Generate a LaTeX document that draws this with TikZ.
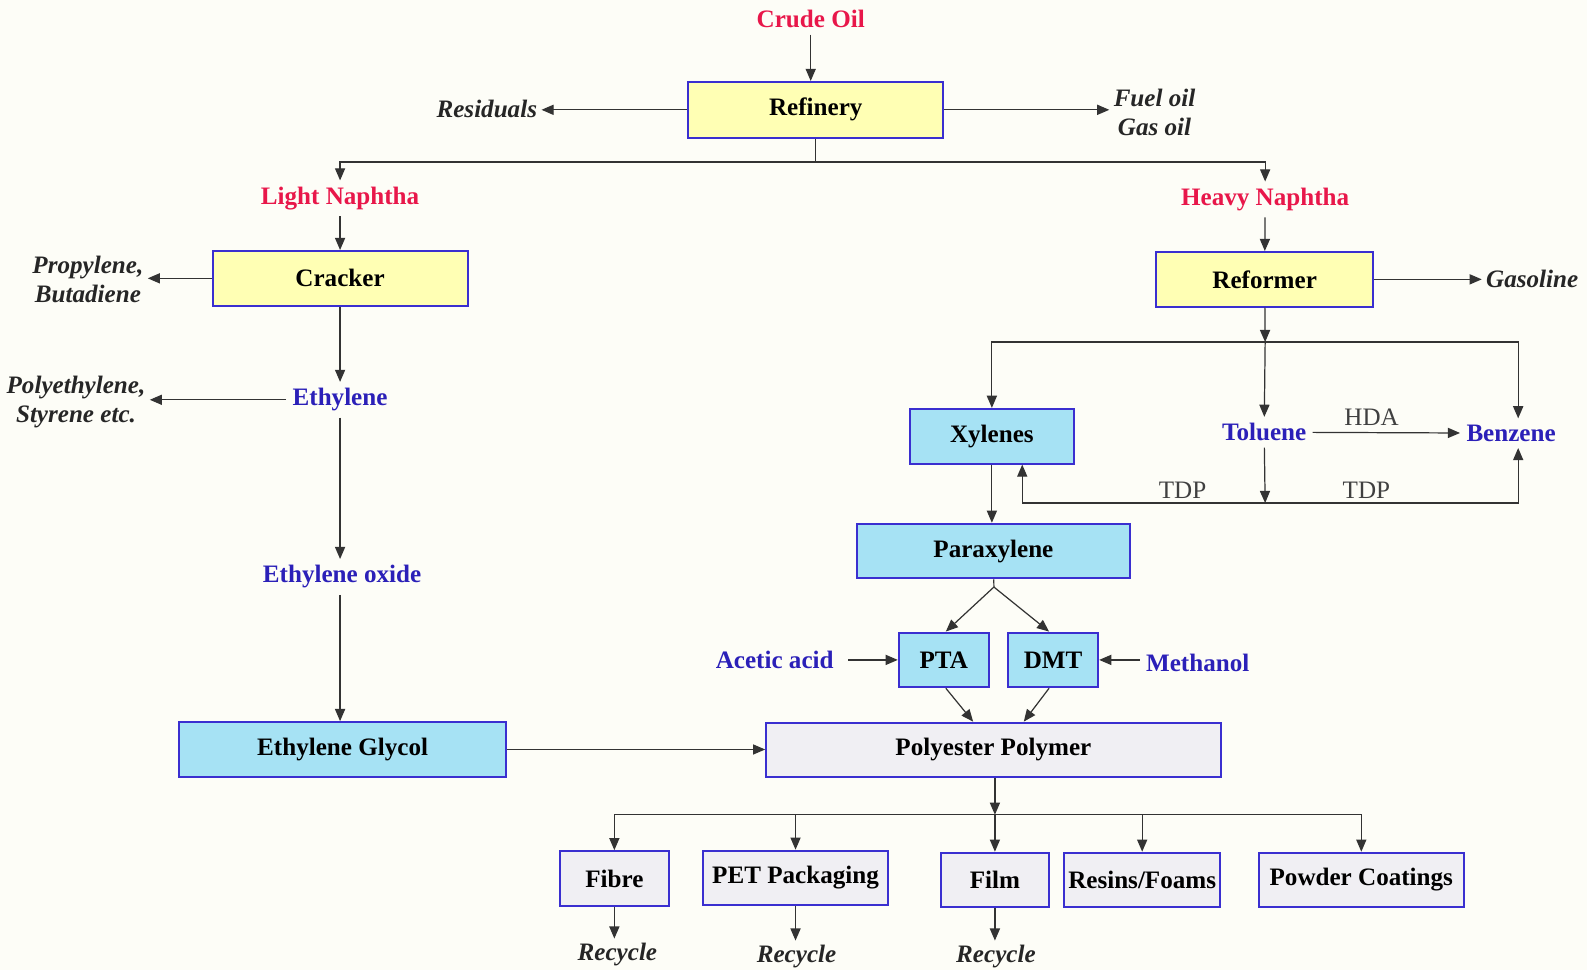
\documentclass[tikz,border=0pt]{standalone}
\usepackage{fontspec}
\setmainfont{Liberation Serif}
\usetikzlibrary{arrows.meta, positioning}
\definecolor{crudered}{HTML}{E8174A}
\definecolor{chemblue}{HTML}{2B20B8}
\definecolor{boxline}{HTML}{3A2FD0}
\definecolor{yfill}{HTML}{FFFFB4}
\definecolor{cfill}{HTML}{A6E2F4}
\definecolor{gfill}{HTML}{F0EFF3}
\definecolor{linegray}{HTML}{333333}
\definecolor{paper}{HTML}{FDFDF7}

\begin{document}
\begin{tikzpicture}[x=0.5pt, y=-0.5pt,
  font=\fontsize{12.4}{14.5}\selectfont\bfseries,
  box/.style={draw=boxline, line width=1pt, minimum height=27pt, inner sep=2pt},
  ybox/.style={box, fill=yfill},
  cbox/.style={box, fill=cfill},
  gbox/.style={box, fill=gfill},
  feed/.style={text=crudered, inner sep=3pt},
  chem/.style={text=chemblue, inner sep=3pt},
  prod/.style={font=\fontsize{12.4}{14.5}\selectfont\bfseries\itshape, text=black!85, align=center, inner sep=2pt},
  proc/.style={font=\fontsize{12.4}{14.5}\selectfont, text=black!75, inner sep=2pt},
  flow/.style={draw=linegray, line width=0.6pt, -{Triangle[length=6pt,width=5pt]}},
  link/.style={draw=linegray, line width=0.6pt}
]
\useasboundingbox[fill=paper] (0,0) rectangle (1568,958);

% refinery
\node[feed] (crude) at (801,19) {Crude Oil};
\node[ybox, minimum width=126pt, minimum height=27.5pt] (refinery) at (806,108.5) {Refinery};
\node[prod, anchor=east] (resid) at (535,108) {Residuals};
\node[prod, anchor=west] (fuel) at (1096,111) {Fuel oil\\Gas oil};
\coordinate (split) at (806,160);
\node[feed] (light) at (336,196) {Light Naphtha};
\node[feed] (heavy) at (1250,197) {Heavy Naphtha};

% light naphtha side
\node[ybox, minimum width=126pt] (cracker) at (336,275) {Cracker};
\node[prod, anchor=east] (propyl) at (146,276) {Propylene,\\Butadiene};
\node[chem] (ethylene) at (336,395) {Ethylene};
\node[prod, anchor=east] (polyeth) at (148,397) {Polyethylene,\\Styrene etc.};
\node[chem] (eo) at (338,570) {Ethylene oxide};
\node[cbox, minimum width=161.5pt] (eg) at (338.5,740.5) {Ethylene Glycol};

% heavy naphtha side
\node[ybox, minimum width=107.5pt] (reformer) at (1249.5,276) {Reformer};
\node[prod, anchor=west] (gasoline) at (1464,276) {Gasoline};
\coordinate (aroma) at (1250,338);
\node[cbox, minimum width=81pt] (xylenes) at (980,431) {Xylenes};
\node[chem] (toluene) at (1249,427) {Toluene};
\node[chem] (benzene) at (1493,428) {Benzene};
\coordinate (tdp) at (1250,497);
\node[cbox, minimum width=134.5pt] (paraxyl) at (981.5,544.5) {Paraxylene};
\coordinate (px) at (982,580);
\node[cbox, minimum width=44.5pt] (pta) at (932.5,652) {PTA};
\node[cbox, minimum width=44.5pt] (dmt) at (1040.5,652) {DMT};
\node[chem, anchor=east] (acetic) at (830,652) {Acetic acid};
\node[chem, anchor=west] (methanol) at (1126,655) {Methanol};

% polymer and uses
\node[gbox, minimum width=224.5pt] (polyester) at (981.5,741) {Polyester Polymer};
\coordinate (uses) at (983,805);
\node[gbox, minimum width=54pt] (fibre) at (607,868) {Fibre};
\node[gbox, minimum width=91pt] (pet) at (786,867.5) {PET Packaging};
\node[gbox, minimum width=53pt] (film) at (983,869.5) {Film};
\node[gbox, minimum width=76.5pt] (resins) at (1128.5,869.5) {Resins/Foams};
\node[gbox, minimum width=101pt] (powder) at (1345,869.5) {Powder Coatings};
\node[prod] (rfibre) at (610,943) {Recycle};
\node[prod] (rpet) at (787,945) {Recycle};
\node[prod] (rfilm) at (984,945) {Recycle};

% connectors
\draw[flow] (crude) -- (crude |- refinery.north);
\draw[flow] (refinery.west) -- (resid.east |- refinery.west);
\draw[flow] (refinery.east) -- (fuel.west |- refinery.east);
\draw[link] (refinery) -- (split);
\draw[flow] (split) -| (light);
\draw[flow] (split) -| (heavy);
\draw[flow] (light) -- (cracker);
\draw[flow] (cracker.west) -- (propyl.east |- cracker.west);
\draw[flow] (cracker) -- (ethylene);
\draw[flow] (ethylene.west) -- (polyeth.east |- ethylene.west);
\draw[flow] (ethylene) -- (ethylene |- eo.north);
\draw[flow] (eo.south -| ethylene) -- (ethylene |- eg.north);
\draw[flow] (eg.east) -- (eg.east -| polyester.west);
\draw[flow] (heavy) -- (reformer);
\draw[flow] (reformer) -- (aroma);
\draw[flow] (reformer) -- (gasoline);
\draw[flow] (aroma) -| (xylenes);
\draw[flow] (aroma) -- (toluene);
\draw[flow] (aroma) -| ([xshift=3.5pt]benzene.north);
\draw[flow] (toluene) -- node[proc, above=1pt, pos=0.4] {HDA} (benzene);
\draw[flow] (toluene) -- (tdp);
\draw[flow] (tdp) -| node[proc, above, pos=0.17] {TDP} ([xshift=15pt]xylenes.south);
\draw[flow] (tdp) -| node[proc, above, pos=0.2] {TDP} ([xshift=3.5pt]benzene.south);
\draw[flow] (xylenes) -- (xylenes |- paraxyl.north);
\draw[link] (paraxyl) -- (px);
\draw[flow] (px) -- ([xshift=1pt]pta.north);
\draw[flow] (px) -- ([xshift=-2pt]dmt.north);
\draw[flow, shorten <=4pt] (acetic) -- (pta);
\draw[flow] (methanol.west |- dmt.east) -- (dmt.east);
\draw[flow] ([xshift=1pt]pta.south) -- ([xshift=-10pt]polyester.north);
\draw[flow] ([xshift=-2pt]dmt.south) -- ([xshift=15pt]polyester.north);
\draw[flow] (polyester.south -| uses) -- (uses);
\foreach \use in {fibre, pet, film, resins, powder}
  \draw[flow] (uses) -| (\use);
\draw[flow] (fibre) -- (rfibre.north -| fibre.south);
\draw[flow] (pet) -- (rpet.north -| pet.south);
\draw[flow] (film) -- (rfilm.north -| film.south);
\end{tikzpicture}
\end{document}
